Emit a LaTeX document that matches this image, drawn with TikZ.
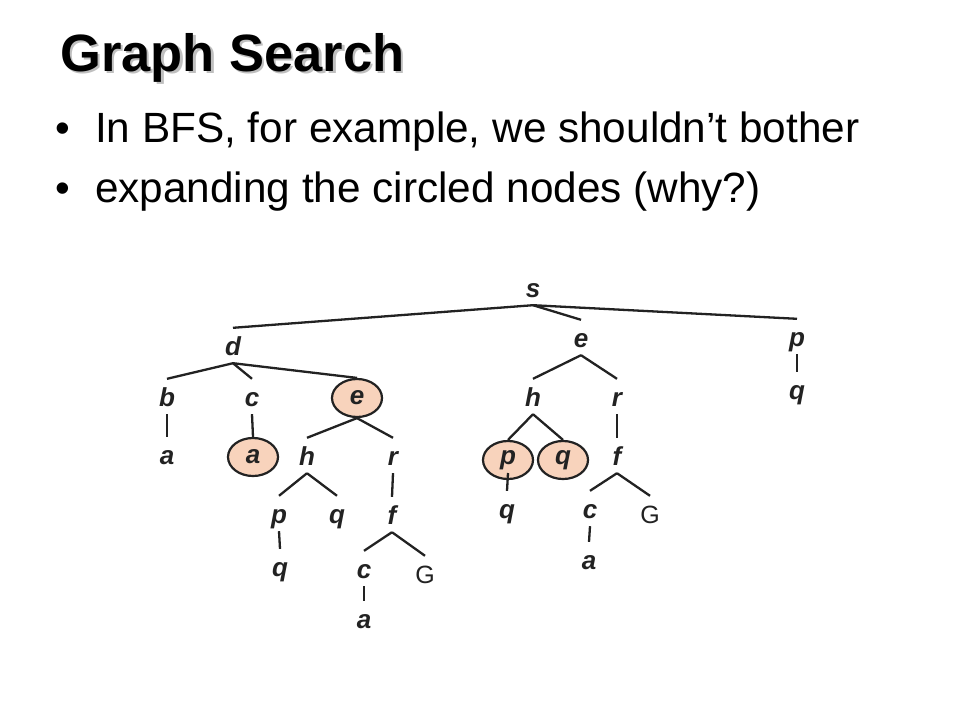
\documentclass[tikz,border=0pt]{standalone}
\usepackage{fontspec}
\setmainfont{Liberation Sans}
\usetikzlibrary{shapes.geometric}
\definecolor{peach}{HTML}{F8D3BC}
\definecolor{edgecol}{HTML}{222222}
\begin{document}
\begin{tikzpicture}[x=1pt,y=-1pt,
  lbl/.style={anchor=base,inner sep=0pt,text height=27pt,text depth=8pt,text=edgecol,font=\fontsize{26}{26}\selectfont\bfseries\itshape},
  ulbl/.style={lbl,font=\fontsize{25}{25}\selectfont},
  circ/.style={ellipse,draw=edgecol,line width=2.2pt,fill=peach,inner sep=0pt,minimum width=50pt,minimum height=38pt,text=edgecol,font=\fontsize{26}{26}\selectfont\bfseries\itshape},
  edge/.style={draw=edgecol,line width=2.3pt},
  title/.style={anchor=base west,inner sep=0pt,font=\fontsize{52.5}{52.5}\selectfont\bfseries},
  bullet/.style={anchor=base west,inner sep=0pt,font=\fontsize{42.3}{42.3}\selectfont},
  bdot/.style={anchor=base,inner sep=0pt,font=\fontsize{42}{42}\selectfont}]
\useasboundingbox (0,0) rectangle (960,720);
\fill[white] (0,0) rectangle (960,720);
% title with shadow
\node[title,text=black!25] (titleshadow) at (62.5,73.5) {Graph Search};
\node[title] (title) at (60,71) {Graph Search};
% bullets
\node[bdot] (d1) at (63,142) {\textbullet};
\node[bullet] (b1) at (95,142) {In BFS, for example, we shouldn’t bother};
\node[bdot] (d2) at (63,202) {\textbullet};
\node[bullet] (b2) at (95,202) {expanding the circled nodes (why?)};
% tree nodes
\node[lbl] (s) at (533,297) {s};
\node[lbl] (d) at (233,355) {d};
\node[lbl] (e1) at (581,347) {e};
\node[lbl] (p1) at (797,346) {p};
\node[lbl] (q1) at (797,399) {q};
\node[lbl] (b) at (167,406) {b};
\node[lbl] (c1) at (252,406) {c};
\node[circ] (e2) at (357,398) {e};
\node[lbl] (a1) at (167,464) {a};
\node[circ] (a2) at (253,457) {a};
\node[lbl] (h1) at (307,465) {h};
\node[lbl] (r1) at (393,465) {r};
\node[lbl] (p4) at (279,523) {p};
\node[lbl] (q4) at (337,523) {q};
\node[lbl] (f4) at (392,524) {f};
\node[lbl] (q5) at (280,576) {q};
\node[lbl] (c5) at (364,578) {c};
\node[ulbl] (G5) at (425,583) {G};
\node[lbl] (a5) at (364,628) {a};
\node[lbl] (h2) at (533,406) {h};
\node[lbl] (r2) at (617,406) {r};
\node[circ] (p2) at (508,460) {p};
\node[circ] (q2) at (563,460) {q};
\node[lbl] (f2) at (617,465) {f};
\node[lbl] (q3) at (507,518) {q};
\node[lbl] (c3) at (590,518) {c};
\node[ulbl] (G3) at (650,523) {G};
\node[lbl] (a3) at (589,569) {a};
% edges
\path[edge] (s.south) -- (d.north);
\path[edge] (s.south) -- (e1.north);
\path[edge] (s.south) -- (p1.north);
\path[edge] (p1.south) -- (q1.north);
\path[edge] (d.south) -- (b.north);
\path[edge] (d.south) -- (c1.north);
\path[edge] (d.south) -- (e2.north);
\path[edge] (b.south) -- (a1.north);
\path[edge] (c1.south) -- (a2.north);
\path[edge] (e2.south) -- (h1.north);
\path[edge] (e2.south) -- (r1.north);
\path[edge] (h1.south) -- (p4.north);
\path[edge] (h1.south) -- (q4.north);
\path[edge] (r1.south) -- (f4.north);
\path[edge] (p4.south) -- (q5.north);
\path[edge] (f4.south) -- (c5.north);
\path[edge] (f4.south) -- (G5.north);
\path[edge] (c5.south) -- (a5.north);
\path[edge] (e1.south) -- (h2.north);
\path[edge] (e1.south) -- (r2.north);
\path[edge] (h2.south) -- (p2.north);
\path[edge] (h2.south) -- (q2.north);
\path[edge] (r2.south) -- (f2.north);
\path[edge] ([yshift=-13pt]p2.center) -- (q3.north);
\path[edge] (f2.south) -- (c3.north);
\path[edge] (f2.south) -- (G3.north);
\path[edge] (c3.south) -- (a3.north);
\end{tikzpicture}
\end{document}
